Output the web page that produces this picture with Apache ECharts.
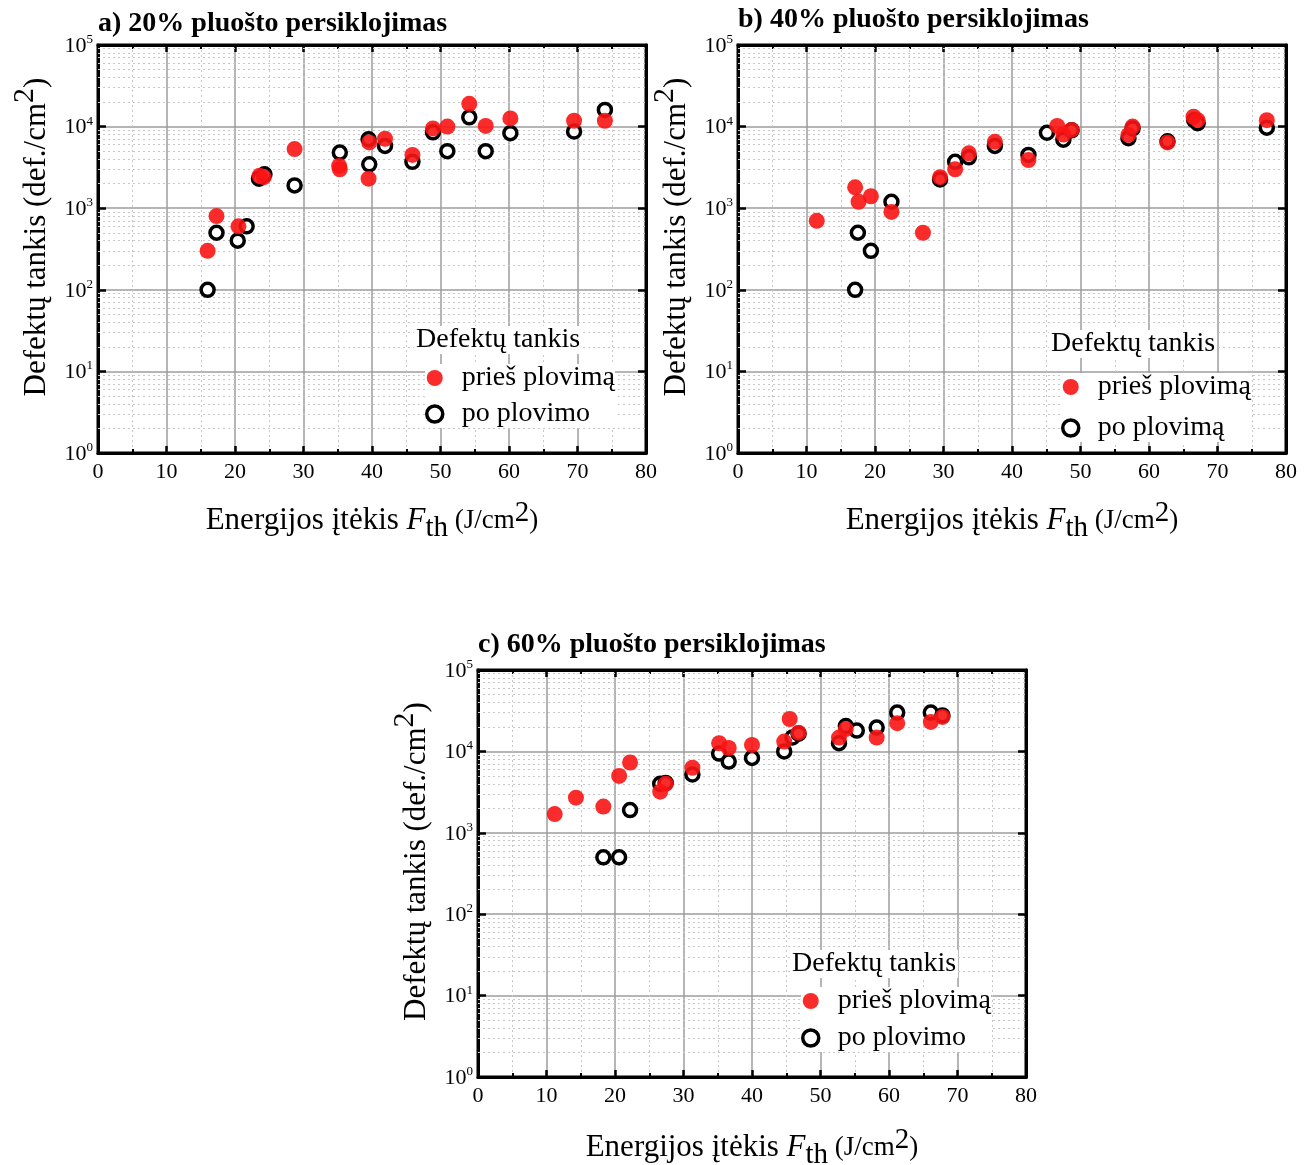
<!DOCTYPE html>
<html><head><meta charset="utf-8">
<script src="https://cdn.jsdelivr.net/npm/echarts@6/dist/echarts.min.js"></script>
<style>html,body{margin:0;padding:0;background:#fff}#c{width:1314px;height:1165px}</style>
</head><body><div id="c"></div>
<script>
// ---- data ----
const panelTitles = ['a) 20% pluošto persiklojimas', 'b) 40% pluošto persiklojimas', 'c) 60% pluošto persiklojimas'];
const legendTitle = 'Defektų tankis';
const beforeName = 'prieš plovimą';
const afterNames = ['po plovimo', 'po plovimą', 'po plovimo'];
const xTickValues = [0, 10, 20, 30, 40, 50, 60, 70, 80];
const yDecades = [1, 10, 100, 1000, 10000, 100000];
const minorMultipliers = [2, 3, 4, 5, 6, 7, 8, 9];

const aBefore = [[16,300],[17.3,800],[20.5,600],[23.6,2500],[24.2,2400],[28.7,5300],[35.2,3300],[35.3,3000],[39.6,6400],[39.5,2300],[41.9,7100],[45.9,4500],[48.9,9500],[51.0,10000],[54.2,19000],[56.6,10200],[60.2,12600],[69.5,11800],[74.0,11800]];
const aAfter = [[16,100],[17.3,500],[20.4,400],[21.7,600],[23.5,2300],[24.3,2600],[28.7,1900],[35.3,4800],[39.5,7000],[39.6,3450],[41.9,5800],[45.9,3700],[48.9,8500],[51.0,5000],[54.2,13000],[56.6,5000],[60.2,8300],[69.5,8700],[74.0,16000]];

const bBefore = [[11.5,700],[17.1,1800],[17.6,1200],[19.4,1400],[22.4,900],[27.0,500],[29.5,2400],[31.7,3000],[33.7,4700],[37.5,6500],[42.4,3900],[46.6,10200],[47.5,8000],[48.7,9100],[57.0,7900],[57.6,10000],[62.7,6400],[66.5,13200],[67.1,12000],[77.2,12000]];
const bAfter = [[17.1,100],[17.5,500],[19.4,300],[22.4,1200],[29.5,2250],[31.7,3700],[33.7,4200],[37.5,5800],[42.4,4500],[45.1,8400],[47.5,6900],[48.7,9000],[57.0,7200],[57.6,9500],[62.7,6600],[66.6,12000],[67.1,11000],[77.2,9700]];

const cBefore = [[11.2,1700],[14.3,2700],[18.3,2100],[20.6,5000],[22.2,7300],[26.6,3200],[27.4,4000],[31.3,6300],[35.2,12600],[36.6,11000],[40.0,12000],[44.7,13200],[45.5,25000],[46.8,17000],[52.7,14800],[53.7,18800],[58.2,14800],[61.2,22200],[66.1,23000],[67.8,26500]];
const cAfter = [[18.3,500],[20.6,500],[22.2,1900],[26.6,4000],[27.4,4100],[31.3,5200],[35.2,9400],[36.6,7500],[40.0,8300],[44.7,10000],[45.9,14800],[46.8,16500],[52.7,12600],[53.7,20500],[55.3,18000],[58.2,19600],[61.2,30000],[66.1,30000],[67.8,27700]];

const beforeSets = [aBefore, bBefore, cBefore];
const afterSets = [aAfter, bAfter, cAfter];

// ---- layout ----
const FONT = 'Liberation Serif';
const grids = [
  {left: 98, top: 45, width: 548, height: 408},
  {left: 738, top: 45, width: 548, height: 408},
  {left: 478, top: 670, width: 548, height: 407}
];
const titlePos = [{left: 98, top: 10}, {left: 738, top: 6}, {left: 478, top: 631}];
const xNameGaps = [46, 46, 49];
const legendTitlePos = [{left: 414, top: 326}, {left: 1049, top: 330}, {left: 790, top: 950}];
const legendPos = [{left: 425, top: 364, gap: 8}, {left: 1061, top: 373, gap: 13}, {left: 801, top: 987, gap: 9}];

const minorY = [];
yDecades.slice(0, -1).forEach(d => minorMultipliers.forEach(m => minorY.push(d * m)));

const ringStyle = {color: '#ffffff', borderColor: '#000', borderWidth: 3.5, opacity: 1};
const dotStyle = {color: 'rgb(250,20,20)', opacity: 0.9};

const xAxes = [], yAxes = [], series = [], titles = [], legends = [];
grids.forEach((g, i) => {
  const tickStyle = {color: '#000', width: 2.5};
  xAxes.push({
    gridIndex: i, type: 'value', min: 0, max: 80, interval: 10, position: 'bottom',
    axisLine: {show: true, onZero: false, lineStyle: {color: '#000', width: 3}},
    axisTick: {show: true, inside: true, length: 7, lineStyle: tickStyle},
    minorTick: {show: true, splitNumber: 2, length: 4, lineStyle: {color: '#000', width: 2}},
    splitLine: {show: true, lineStyle: {color: '#9c9c9c', width: 1.5}},
    minorSplitLine: {show: true, lineStyle: {color: '#c8c8c8', width: 1, type: [2, 3]}},
    axisLabel: {fontFamily: FONT, fontSize: 22, color: '#000', margin: 8,
      formatter: v => xTickValues.includes(v) ? String(v) : ''},
    name: '{t|Energijos įtėkis }{i|F}{sub|th}{u| (J/cm}{s|2}{u|)}',
    nameLocation: 'middle', nameGap: xNameGaps[i],
    nameTextStyle: {
      fontFamily: FONT, color: '#000',
      rich: {
        t: {fontFamily: FONT, fontSize: 31, color: '#000', lineHeight: 44, verticalAlign: 'middle'},
        i: {fontFamily: FONT, fontSize: 31, fontStyle: 'italic', color: '#000', lineHeight: 44, verticalAlign: 'middle'},
        sub: {fontFamily: FONT, fontSize: 29, color: '#000', lineHeight: 44, verticalAlign: 'bottom'},
        u: {fontFamily: FONT, fontSize: 27, color: '#000', lineHeight: 44, verticalAlign: 'middle'},
        s: {fontFamily: FONT, fontSize: 29, color: '#000', lineHeight: 44, verticalAlign: 'top'}
      }
    }
  });
  xAxes.push({
    gridIndex: i, type: 'value', min: 0, max: 80, interval: 10, position: 'top',
    axisLine: {show: true, onZero: false, lineStyle: {color: '#000', width: 3}},
    axisTick: {show: true, inside: true, length: 7, lineStyle: tickStyle},
    minorTick: {show: true, splitNumber: 2, length: 4, lineStyle: {color: '#000', width: 2}},
    splitLine: {show: false}, axisLabel: {show: false}
  });
  yAxes.push({
    gridIndex: i, type: 'log', logBase: 10, min: 1, max: 100000, position: 'left',
    axisLine: {show: true, onZero: false, lineStyle: {color: '#000', width: 3}},
    axisTick: {show: true, inside: true, length: 8, lineStyle: tickStyle},
    splitLine: {show: true, lineStyle: {color: '#9c9c9c', width: 1.5}},
    axisLabel: {
      margin: 5,
      formatter: v => '{b|10}{e|' + Math.round(Math.log10(v)) + '}',
      rich: {
        b: {fontFamily: FONT, fontSize: 22, color: '#000', lineHeight: 24, verticalAlign: 'bottom'},
        e: {fontFamily: FONT, fontSize: 13, color: '#000', lineHeight: 24, verticalAlign: 'top'}
      }
    },
    name: '{t|Defektų tankis (def./cm}{s|2}{t|)}',
    nameLocation: 'middle', nameGap: 46,
    nameTextStyle: {
      fontFamily: FONT, color: '#000', padding: [0, 0, 0, 24],
      rich: {
        t: {fontFamily: FONT, fontSize: 31, color: '#000', lineHeight: 42, verticalAlign: 'bottom'},
        s: {fontFamily: FONT, fontSize: 30, color: '#000', lineHeight: 42, verticalAlign: 'top'}
      }
    }
  });
  yAxes.push({
    gridIndex: i, type: 'log', logBase: 10, min: 1, max: 100000, position: 'right',
    axisLine: {show: true, onZero: false, lineStyle: {color: '#000', width: 3}},
    axisTick: {show: true, inside: true, length: 8, lineStyle: tickStyle},
    splitLine: {show: false}, axisLabel: {show: false}
  });
  const xi = i * 2, yi = i * 2;
  series.push({
    type: 'scatter', xAxisIndex: xi, yAxisIndex: yi, data: [], z: 1, silent: true,
    markLine: {
      silent: true, symbol: 'none', label: {show: false}, animation: false, z: 1,
      lineStyle: {color: '#c8c8c8', width: 1, type: [2, 3]},
      emphasis: {disabled: true},
      data: minorY.map(v => ({yAxis: v}))
    }
  });
  series.push({
    name: afterNames[i], type: 'scatter', xAxisIndex: xi, yAxisIndex: yi, z: 6,
    data: afterSets[i], symbol: 'circle', symbolSize: 13,
    itemStyle: ringStyle
  });
  series.push({
    name: beforeName, type: 'scatter', xAxisIndex: xi, yAxisIndex: yi, z: 7,
    data: beforeSets[i], symbol: 'circle', symbolSize: 16,
    itemStyle: dotStyle
  });
  titles.push({
    text: panelTitles[i], left: titlePos[i].left, top: titlePos[i].top, padding: 0,
    textStyle: {fontFamily: FONT, fontSize: 28, fontWeight: 'bold', color: '#000'}
  });
  titles.push({
    text: legendTitle, left: legendTitlePos[i].left, top: legendTitlePos[i].top, padding: [0, 2],
    backgroundColor: '#fff', z: 9,
    textStyle: {fontFamily: FONT, fontSize: 28, fontWeight: 'normal', color: '#000'}
  });
  legends.push({
    show: true, orient: 'vertical', left: legendPos[i].left, top: legendPos[i].top,
    itemGap: legendPos[i].gap, itemWidth: 44, itemHeight: 16, padding: 0, z: 9,
    backgroundColor: '#fff', selectedMode: false,
    data: [
      {name: beforeName, icon: 'circle', itemStyle: dotStyle},
      {name: afterNames[i], icon: 'circle', itemStyle: {color: '#ffffff', borderColor: '#000', borderWidth: 3.5}}
    ],
    textStyle: {fontFamily: FONT, fontSize: 28, color: '#000', padding: [0, 4, 0, 0]}
  });
});

const chart = echarts.init(document.getElementById('c'), null, {renderer: 'canvas'});
chart.setOption({
  backgroundColor: '#fff', animation: false,
  title: titles, legend: legends,
  grid: grids.map(g => Object.assign({show: true, borderColor: '#000', borderWidth: 3, backgroundColor: 'transparent', containLabel: false, outerBoundsMode: 'none'}, g)),
  xAxis: xAxes, yAxis: yAxes, series: series
});
</script></body></html>
